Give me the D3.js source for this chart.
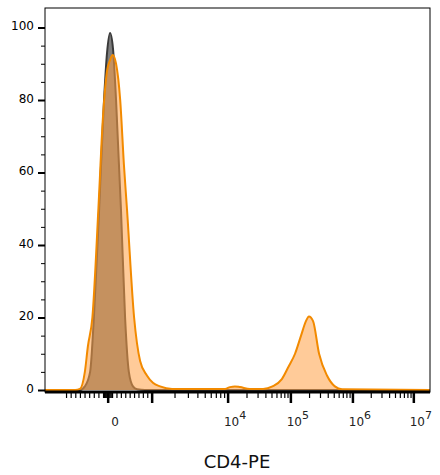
<!DOCTYPE html><html><head><script src="https://d3js.org/d3.v7.min.js"></script>
<style>body{margin:0;background:#fff}text{font-family:"DejaVu Sans",sans-serif}</style></head><body>
<svg id="c" width="440" height="475"></svg>
<script>
// x in display channel units (0..1024), y in % of max
const grayX=[0,93,106,120,130,144,157,165,173,181,189,202,213,223,234,245,266,1024];
const grayY=[0,0,1,5,20,50,80,93,98.5,94,80,50,20,5,1,0.2,0,0];
const orangeX=[0,80,93,106,114,126,142,154,165,173,180,189,200,210,218,237,253,271,287,306,338,372,479,492,505,519,545,580,605,630,648,665,681,694,702,713,729,750,771,790,1024];
const orangeY=[0,0,0.3,5,12,20,50,75,88,91,92.4,90,80,62,50,20,8,4,2,1,0.3,0.3,0.3,0.8,1,0.8,0.3,0.3,1,3,6.5,10,15,19,20.3,19,10,4,1,0.2,0];
const yTicks=[0,20,40,60,80,100];
const xTickLabels=[{v:168,t:"0"},{v:487,sup:"4"},{v:654,sup:"5"},{v:819,sup:"6"},{v:981,sup:"7"}];
const xMajor=[45,168,285,487,654,819,981];
const decades=[[285,487],[487,654],[654,819],[819,981]];

const svg=d3.select("#c");
const L=45,R=430,T=8,B=390;
const x=d3.scaleLinear().domain([0,1024]).range([L,R]);
const y=d3.scaleLinear().domain([0,105]).range([B,B-105*3.625]);
const area=d3.area().x(d=>x(d[0])).y0(y(0)).y1(d=>y(d[1])).curve(d3.curveMonotoneX);
const line=d3.line().x(d=>x(d[0])).y(d=>y(d[1])).curve(d3.curveMonotoneX);
const g=grayX.map((v,i)=>[v,grayY[i]]), o=orangeX.map((v,i)=>[v,orangeY[i]]);
svg.append("path").attr("d",area(g)).attr("fill","#7e7e7e");
svg.append("path").attr("d",line(g)).attr("fill","none").attr("stroke","#3a3a3a").attr("stroke-width",2);
svg.append("path").attr("d",area(o)).attr("fill","rgb(255,160,70)").attr("fill-opacity",0.55);
svg.append("path").attr("d",line(o)).attr("fill","none").attr("stroke","#f28a00").attr("stroke-width",2);
svg.append("rect").attr("x",L).attr("y",T).attr("width",R-L).attr("height",B-T+2).attr("fill","none").attr("stroke","#000").attr("stroke-width",1);
const ya=d3.axisLeft(y).tickValues(d3.range(0,101,5)).tickSize(4).tickFormat(d=>yTicks.includes(d)?d:"");
const yg=svg.append("g").attr("transform",`translate(${L},0)`).call(ya);
yg.select(".domain").remove();
yg.selectAll(".tick line").attr("stroke-width",d=>yTicks.includes(d)?2:1).attr("x2",d=>yTicks.includes(d)?-7:-4);
yg.selectAll("text").attr("font-size",12).attr("x",-11).attr("dy","0.2em");
svg.append("line").attr("x1",L).attr("x2",R).attr("y1",B+2).attr("y2",B+2).attr("stroke","#000").attr("stroke-width",3);
const xg=svg.append("g");
let minor=[];
for(let i=1;i<10;i++){minor.push(45+(168-45)*i/10);minor.push(168+(285-168)*i/10);}
for(let k=-4;k<=4;k++)minor.push(168+k*2.5);
decades.forEach(([a,b])=>{for(let m=2;m<10;m++)minor.push(a+(b-a)*Math.log10(m));});
xg.selectAll(".mn").data(minor).join("line").attr("x1",d=>x(d)).attr("x2",d=>x(d)).attr("y1",B+2).attr("y2",B+8).attr("stroke","#000").attr("stroke-width",1.2);
xg.selectAll(".mj").data(xMajor.slice(1)).join("line").attr("x1",d=>x(d)).attr("x2",d=>x(d)).attr("y1",B+2).attr("y2",B+13).attr("stroke","#000").attr("stroke-width",2.5);
xTickLabels.forEach(d=>{
  const t=svg.append("text").attr("x",x(d.v)+7).attr("y",B+36).attr("text-anchor","middle").attr("font-size",12).attr("fill","#222");
  if(d.sup){t.append("tspan").text("10");t.append("tspan").attr("dy",-7).attr("font-size",11).text(d.sup);}
  else t.text(d.t);
});
svg.append("text").attr("x",237).attr("y",468).attr("text-anchor","middle").attr("font-size",18).attr("fill","#111").text("CD4-PE");
</script></body></html>
